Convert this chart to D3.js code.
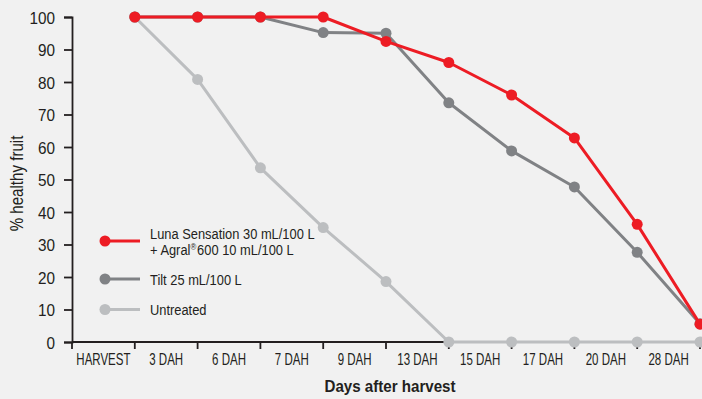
<!DOCTYPE html>
<html>
<head>
<meta charset="utf-8">
<script src="https://cdn.jsdelivr.net/npm/d3@7/dist/d3.min.js"></script>
<style>
  html, body { margin: 0; padding: 0; background: #f1f1f1; }
  svg { display: block; font-family: "Liberation Sans", Arial, sans-serif; }
</style>
</head>
<body>
<svg id="chart" width="702" height="399"></svg>
<script>
// Sampling days after harvest
const categories = ["HARVEST", "3 DAH", "6 DAH", "7 DAH", "9 DAH", "13 DAH", "15 DAH", "17 DAH", "20 DAH", "28 DAH"];

// % healthy fruit per treatment
const lunaValues = [100, 100, 100, 100, 92.5, 86, 76, 62.8, 36.2, 5.5];
const tiltValues = [100, 100, 100, 95.2, 95, 73.6, 58.8, 47.7, 27.6, 5.6];
const untreatedValues = [100, 80.8, 53.6, 35.2, 18.6, 0, 0, 0, 0, 0];

const yTicks = [0, 10, 20, 30, 40, 50, 60, 70, 80, 90, 100];

const seriesNames = ["Luna Sensation 30 mL/100 L", "Tilt 25 mL/100 L", "Untreated"];

const INK = "#231f20";
const svg = d3.select("#chart");
const margin = { left: 72, right: 2, top: 17, bottom: 57 };
const W = 702, H = 399;

// narrow the glyphs horizontally to get a condensed face
function condense(sel, s) {
  sel.each(function () {
    const t = d3.select(this);
    const x0 = +t.attr("x") || 0;
    const y0 = +t.attr("y") || 0;
    t.attr("x", 0).attr("y", 0)
     .attr("transform", `translate(${x0},${y0}) scale(${s},1)`);
  });
}

const x = d3.scaleBand().domain(categories).range([margin.left, W - margin.right]).paddingInner(0).paddingOuter(0);
const y = d3.scaleLinear().domain([0, 100]).range([H - margin.bottom, margin.top]);

// each point sits on the right-hand tick of its category band
const px = c => x(c) + x.bandwidth();

// y axis
const yAxis = svg.append("g")
  .attr("transform", `translate(${margin.left},0)`)
  .call(d3.axisLeft(y).tickValues(yTicks).tickSize(8).tickPadding(9));
yAxis.select(".domain").attr("stroke", INK).attr("stroke-width", 1.8);
yAxis.selectAll(".tick line").attr("stroke", INK).attr("stroke-width", 1.8);
yAxis.selectAll(".tick text").attr("font-size", 17).attr("fill", INK)
  .attr("dy", null).attr("y", 6);
condense(yAxis.selectAll(".tick text"), 0.9);

// x axis: ticks on band edges, labels centred in bands
const xg = svg.append("g").attr("transform", `translate(0,${y(0)})`);
xg.append("line")
  .attr("x1", margin.left).attr("x2", W - margin.right)
  .attr("stroke", INK).attr("stroke-width", 1.8);
const edges = [x(categories[0])].concat(categories.map(px));
xg.selectAll("line.tk").data(edges).join("line")
  .attr("class", "tk")
  .attr("x1", d => d).attr("x2", d => d)
  .attr("y1", 0).attr("y2", 7)
  .attr("stroke", INK).attr("stroke-width", 1.8);
const xl = xg.selectAll("text").data(categories).join("text")
  .attr("x", d => x(d) + x.bandwidth() / 2)
  .attr("y", 23)
  .attr("text-anchor", "middle")
  .attr("font-size", 16)
  .attr("fill", INK)
  .text(d => d);
condense(xl, 0.72);

// axis titles
const xt = svg.append("text")
  .attr("x", 390).attr("y", 392)
  .attr("text-anchor", "middle")
  .attr("font-size", 17).attr("font-weight", "bold")
  .attr("fill", INK)
  .text("Days after harvest");
condense(xt, 0.89);

svg.append("text")
  .attr("transform", `translate(23,${(y(0) + y(100)) / 2 + 4}) rotate(-90) scale(0.84,1)`)
  .attr("text-anchor", "middle")
  .attr("font-size", 18)
  .attr("fill", INK)
  .text("% healthy fruit");

// series, drawn back to front
const series = [
  { values: untreatedValues, color: "#bcbec0" },
  { values: tiltValues, color: "#808285" },
  { values: lunaValues, color: "#ed1c24" }
];

const line = d3.line().x((d, i) => px(categories[i])).y(d => y(d));

series.forEach(s => {
  svg.append("path")
    .datum(s.values)
    .attr("fill", "none")
    .attr("stroke", s.color)
    .attr("stroke-width", 3)
    .attr("stroke-linejoin", "round")
    .attr("d", line);
  svg.append("g").selectAll("circle").data(s.values).join("circle")
    .attr("cx", (d, i) => px(categories[i]))
    .attr("cy", d => y(d))
    .attr("r", 5.5)
    .attr("fill", s.color);
});

// legend
const legend = [
  { color: "#ed1c24", y: 241 },
  { color: "#808285", y: 279 },
  { color: "#bcbec0", y: 309.5 }
];
legend.forEach(l => {
  svg.append("line")
    .attr("x1", 104).attr("x2", 140)
    .attr("y1", l.y).attr("y2", l.y)
    .attr("stroke", l.color).attr("stroke-width", 3);
  svg.append("circle")
    .attr("cx", 105).attr("cy", l.y).attr("r", 5.5).attr("fill", l.color);
});

const lt = svg.append("g").attr("font-size", 14).attr("fill", INK);
lt.append("text").attr("x", 150).attr("y", 238.5).text(seriesNames[0]);
const t2 = lt.append("text").attr("x", 150).attr("y", 254.7);
t2.append("tspan").text("+ Agral");
t2.append("tspan").attr("font-size", 8.5).attr("dy", -5).text("®");
t2.append("tspan").attr("dy", 5).attr("dx", 1).text("600 10 mL/100 L");
lt.append("text").attr("x", 150).attr("y", 285).text(seriesNames[1]);
lt.append("text").attr("x", 150).attr("y", 315).text(seriesNames[2]);
condense(lt.selectAll("text"), 0.92);
</script>
</body>
</html>
